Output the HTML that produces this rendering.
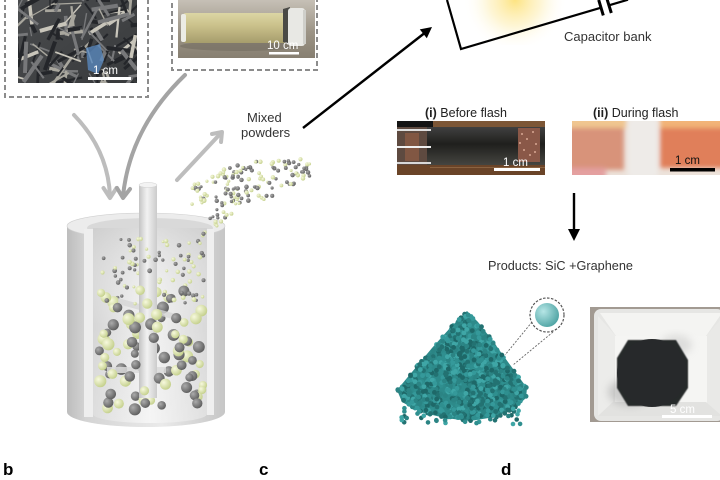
<!DOCTYPE html>
<html><head><meta charset="utf-8"><style>
html,body{margin:0;padding:0;background:#fff;}
svg{display:block;}
text{font-family:"Liberation Sans",sans-serif;}
</style></head><body>
<svg id="s" width="720" height="480" viewBox="0 0 720 480" xmlns="http://www.w3.org/2000/svg">
<defs>
 <radialGradient id="glow" cx="515" cy="0" r="52" gradientUnits="userSpaceOnUse">
  <stop offset="0" stop-color="#fde27a" stop-opacity="0.95"/>
  <stop offset="0.5" stop-color="#fdefb8" stop-opacity="0.6"/>
  <stop offset="1" stop-color="#ffffff" stop-opacity="0"/>
 </radialGradient>
 <radialGradient id="gs" cx="0.35" cy="0.35" r="0.7"><stop offset="0" stop-color="#ababab"/><stop offset="1" stop-color="#5c5c5c"/></radialGradient>
 <radialGradient id="ys" cx="0.35" cy="0.35" r="0.7"><stop offset="0" stop-color="#f7f9de"/><stop offset="1" stop-color="#c3cf8a"/></radialGradient>
 <radialGradient id="ts" cx="0.35" cy="0.35" r="0.7"><stop offset="0" stop-color="#b6e6e6"/><stop offset="1" stop-color="#4fa4a4"/></radialGradient>
 <linearGradient id="body" x1="0" x2="1"><stop offset="0" stop-color="#bdbdbd"/><stop offset="0.12" stop-color="#d4d4d4"/><stop offset="0.6" stop-color="#eaeaea"/><stop offset="1" stop-color="#c6c6c6"/></linearGradient>
 <linearGradient id="inner" x1="0" x2="1"><stop offset="0" stop-color="#d6d6d6"/><stop offset="0.5" stop-color="#f3f3f3"/><stop offset="1" stop-color="#d9d9d9"/></linearGradient>
 <linearGradient id="innerV" x1="0" x2="0" y1="0" y2="1"><stop offset="0" stop-color="#c8c8c8" stop-opacity="0.5"/><stop offset="0.5" stop-color="#ffffff" stop-opacity="0"/><stop offset="1" stop-color="#ffffff" stop-opacity="0.2"/></linearGradient>
 <linearGradient id="shaft" x1="0" x2="1"><stop offset="0" stop-color="#c4c4c4"/><stop offset="0.45" stop-color="#f2f2f2"/><stop offset="1" stop-color="#cbcbcb"/></linearGradient>
 <linearGradient id="p2bg" x1="0" x2="0" y1="0" y2="1"><stop offset="0" stop-color="#c6c0b6"/><stop offset="0.55" stop-color="#9c9486"/><stop offset="1" stop-color="#877f71"/></linearGradient>
 <linearGradient id="tube" x1="0" x2="0" y1="0" y2="1"><stop offset="0" stop-color="#dcd6a4"/><stop offset="0.4" stop-color="#cbc28c"/><stop offset="1" stop-color="#a69d6c"/></linearGradient>
 <linearGradient id="tubei" x1="0" x2="0" y1="0" y2="1"><stop offset="0" stop-color="#404040"/><stop offset="0.45" stop-color="#1f1f1d"/><stop offset="1" stop-color="#454540"/></linearGradient>
 <linearGradient id="p1bg" x1="0" x2="1" y1="0" y2="1"><stop offset="0" stop-color="#4a4c4e"/><stop offset="1" stop-color="#383a3c"/></linearGradient>
 <filter id="bl" x="-10%" y="-10%" width="120%" height="120%"><feGaussianBlur stdDeviation="2.5"/></filter>
 <filter id="bl4" x="-30%" y="-30%" width="160%" height="160%"><feGaussianBlur stdDeviation="4"/></filter>
 <filter id="bl1"><feGaussianBlur stdDeviation="0.6"/></filter>
 <clipPath id="c1"><rect x="18" y="0" width="119" height="83"/></clipPath>
 <clipPath id="c2"><rect x="178" y="0" width="137" height="58"/></clipPath>
 <clipPath id="c3"><rect x="397" y="121" width="148" height="54"/></clipPath>
 <clipPath id="c4"><rect x="572" y="121" width="148" height="54"/></clipPath>
 <clipPath id="c5"><rect x="590" y="307" width="130" height="115"/></clipPath>
</defs>

<rect x="0" y="0" width="720" height="480" fill="#fff"/>

<!-- Photo 1 : shredded fibers -->
<rect x="5" y="-10" width="143" height="107" fill="none" stroke="#8c8c8c" stroke-width="2" stroke-dasharray="5,3"/>
<g clip-path="url(#c1)">
 <rect x="18" y="0" width="119" height="83" fill="url(#p1bg)"/>
 <g id="shreds"></g>
 <path d="M86,48 L100,44 L104,60 L98,74 L88,70 Z" fill="#5b8cc4" opacity="0.75"/>
 <rect x="88" y="77" width="43" height="3" fill="#fff"/>
 <text x="93" y="74" font-size="11.5" fill="#fff">1 cm</text>
</g>

<!-- Photo 2 : tube -->
<rect x="172" y="-10" width="145" height="80" fill="none" stroke="#8c8c8c" stroke-width="2" stroke-dasharray="5,3"/>
<g clip-path="url(#c2)">
 <rect x="178" y="0" width="137" height="58" fill="url(#p2bg)"/>
 <ellipse cx="240" cy="46" rx="60" ry="5" fill="#6e675c" opacity="0.5"/>
 <rect x="182" y="13" width="108" height="30" rx="4" fill="url(#tube)"/>
 <rect x="181" y="14" width="5" height="28" rx="2" fill="#ecece4"/>
 <path d="M283,9 L290,7 L290,44 L283,42 Z" fill="#4a4a46"/>
 <rect x="288" y="8" width="17" height="38" rx="3" fill="#e8e8e4"/>
 <rect x="303" y="10" width="3" height="34" fill="#cfcfca"/>
 <rect x="269" y="52" width="30" height="2.5" fill="#fff"/>
 <text x="267" y="49" font-size="11.5" fill="#fff">10 cm</text>
</g>

<!-- Capacitor -->
<rect x="440" y="0" width="160" height="45" fill="url(#glow)"/>
<path d="M447,0 L461,49 L601,7.7" fill="none" stroke="#000" stroke-width="2.2" stroke-linejoin="miter"/>
<line x1="598.7" y1="0" x2="603.3" y2="15.4" stroke="#000" stroke-width="3"/>
<line x1="606.7" y1="-2" x2="611.3" y2="13" stroke="#000" stroke-width="3"/>
<line x1="609" y1="5.3" x2="628" y2="-0.3" stroke="#000" stroke-width="2.2"/>
<text x="564" y="41" font-size="13" fill="#333">Capacitor bank</text>

<!-- Black arrow -->
<line x1="303" y1="128" x2="424" y2="33.5" stroke="#000" stroke-width="2.4"/>
<polygon points="432,27 426.8,38.3 419.8,29.4" fill="#000"/>

<text x="247" y="122" font-size="13" fill="#333">Mixed</text>
<text x="241" y="137" font-size="13" fill="#333">powders</text>

<!-- Gray arrows -->
<g fill="none" stroke-width="4" stroke-linecap="round" stroke-linejoin="round">
 <path d="M74,115 Q108,150 110,196" stroke="#bdbdbd"/>
 <polyline points="103.5,188 110,198 116.5,188" stroke="#bdbdbd"/>
 <path d="M185,75 Q130,128 123,196" stroke="#a4a4a4"/>
 <polyline points="117,188 123,198 130,189" stroke="#a4a4a4"/>
 <line x1="177" y1="180" x2="221" y2="133" stroke="#bdbdbd"/>
 <polyline points="212,134 222,132 221,142" stroke="#bdbdbd"/>
</g>

<!-- Mixer -->
<path d="M67,226 L67,412 A79,15 0 0 0 225,412 L225,226 A79,13 0 0 0 67,226 Z" fill="url(#body)"/>
<ellipse cx="146" cy="226" rx="79" ry="13" fill="#ececec" stroke="#d0d0d0" stroke-width="0.6"/>
<ellipse cx="150" cy="228" rx="63" ry="10" fill="#d9d9d9"/>
<path d="M93,228 L93,414 A57,9 0 0 0 207,414 L207,228 Z" fill="url(#inner)"/>
<path d="M93,228 L93,414 A57,9 0 0 0 207,414 L207,228 Z" fill="url(#innerV)"/>
<rect x="84" y="229" width="9" height="188" fill="#eeeeee"/>
<rect x="207" y="229" width="7" height="186" fill="#efefef"/>
<g id="mixback"></g>
<polygon points="118,298 176,314 176,320 118,304" fill="#d6d6d6" opacity="0.8"/>
<polygon points="107,367 166,367 166,373 107,373" fill="#dadada" opacity="0.85"/>
<rect x="139" y="185" width="18" height="213" fill="url(#shaft)"/>
<ellipse cx="148" cy="185" rx="9" ry="2.5" fill="#f3f3f3" stroke="#cfcfcf" stroke-width="0.5"/>
<g id="mixfront"></g>
<g id="pow"></g>

<!-- Photo i -->
<text x="425" y="117" font-size="12.5" fill="#222"><tspan font-weight="bold">(i)</tspan> Before flash</text>
<g clip-path="url(#c3)">
 <rect x="397" y="121" width="148" height="54" fill="#6c4829"/>
 <rect x="397" y="121" width="148" height="6" fill="#7c5636"/>
 <rect x="397" y="121" width="36" height="6" fill="#141414"/>
 <rect x="397" y="127" width="148" height="38" fill="url(#tubei)"/>
 <rect x="397" y="127" width="30" height="38" fill="#5e4a40"/>
 <rect x="405" y="133" width="14" height="28" fill="#8a5a44" opacity="0.8"/>
 <rect x="397" y="129" width="34" height="2" fill="#e0e0e0"/>
 <rect x="397" y="146" width="34" height="2" fill="#f0f0f0"/>
 <rect x="397" y="162" width="34" height="2" fill="#d8d8d8"/>
 <rect x="518" y="128" width="22" height="34" fill="#8a5848"/>
 <g fill="#d8a894"><circle cx="522" cy="134" r="1"/><circle cx="527" cy="139" r="1"/><circle cx="533" cy="132" r="1"/><circle cx="536" cy="144" r="1"/><circle cx="524" cy="150" r="1"/><circle cx="530" cy="155" r="1"/><circle cx="520" cy="143" r="1"/><circle cx="535" cy="152" r="1"/></g>
 <rect x="397" y="165" width="148" height="10" fill="#6a4428"/>
 <rect x="430" y="167" width="115" height="1" fill="#8a6240"/>
 <rect x="494" y="168" width="46" height="3" fill="#fff"/>
 <text x="503" y="166" font-size="11.5" fill="#fff">1 cm</text>
</g>

<!-- Photo ii -->
<text x="593" y="117" font-size="12.5" fill="#222"><tspan font-weight="bold">(ii)</tspan> During flash</text>
<g clip-path="url(#c4)">
 <rect x="572" y="121" width="148" height="54" fill="#ece2da"/>
 <g filter="url(#bl)">
  <rect x="566" y="126" width="58" height="44" fill="#d8937a"/>
  <rect x="566" y="116" width="60" height="12" fill="#f0c690"/>
  <rect x="660" y="128" width="66" height="40" fill="#e07f5a"/>
  <rect x="660" y="116" width="66" height="12" fill="#f2b478"/>
  <rect x="566" y="168" width="40" height="12" fill="#e4a0a0"/>
  <rect x="628" y="118" width="30" height="60" fill="#eeebe8"/>
 </g>
 <rect x="670" y="168" width="45" height="3.5" fill="#000"/>
 <text x="675" y="164" font-size="11.5" fill="#111">1 cm</text>
</g>

<!-- Down arrow -->
<line x1="574" y1="193" x2="574" y2="231" stroke="#000" stroke-width="2.4"/>
<polygon points="568,229 580,229 574,241" fill="#000"/>

<text x="488" y="270" font-size="12.7" fill="#333">Products: SiC +Graphene</text>

<!-- Pyramid -->
<polygon id="pyr" points="467,311 478,322 492,340 508,362 527,388 526,398 515,408 495,417 470,421 445,418 420,412 402,402 397,390 412,372 432,348 450,328" fill="#2d8a8a"/>
<g id="pyrdots"></g>
<line x1="532" y1="322" x2="505" y2="355" stroke="#666" stroke-width="0.9" stroke-dasharray="2,1.5"/>
<line x1="553" y1="332" x2="513" y2="365" stroke="#666" stroke-width="0.9" stroke-dasharray="2,1.5"/>
<circle cx="547" cy="315" r="17" fill="#fff" stroke="#555" stroke-width="1.2" stroke-dasharray="2.5,1.5"/>
<circle cx="547" cy="315" r="12" fill="url(#ts)"/>

<!-- Photo d -->
<g clip-path="url(#c5)">
 <rect x="590" y="307" width="130" height="115" fill="#a29a92"/>
 <rect x="594" y="309" width="130" height="112" rx="7" fill="#e6e6e4"/>
 <polygon points="600,313 722,313 706,336 616,336" fill="#f4f4f2"/>
 <polygon points="598,316 616,336 613,402 598,416" fill="#ececea"/>
 <polygon points="706,336 722,318 722,416 704,402" fill="#e9e9e7"/>
 <rect x="615" y="336" width="92" height="68" fill="#f5f5f3"/>
 <polygon points="598,416 613,402 706,402 722,416" fill="#e2e2e0"/>
 <ellipse cx="630" cy="392" rx="22" ry="14" fill="#9c9c9c" opacity="0.45" filter="url(#bl4)"/>
 <ellipse cx="676" cy="345" rx="16" ry="10" fill="#b0b0b0" opacity="0.35" filter="url(#bl4)"/>
 <path d="M628,340 L676,340 L688,360 L688,388 L676,406 L628,406 L617,388 L617,358 Z" fill="#27292b" filter="url(#bl1)"/>
 <ellipse cx="652" cy="373" rx="35" ry="34" fill="#27292b"/>
 <rect x="662" y="415" width="50" height="3" fill="#fff"/>
 <text x="670" y="413" font-size="11.5" fill="#fff">5 cm</text>
</g>

<!-- Panel labels -->
<text x="3" y="475" font-size="17" font-weight="bold" fill="#000">b</text>
<text x="259" y="475" font-size="17" font-weight="bold" fill="#000">c</text>
<text x="501" y="475" font-size="17" font-weight="bold" fill="#000">d</text>
</svg>
<script>
(function(){
var NS="http://www.w3.org/2000/svg";
var s=12345;function r(){s=(s*16807)%2147483647;return (s-1)/2147483646;}
function el(p,tag,a){var e=document.createElementNS(NS,tag);for(var k in a)e.setAttribute(k,a[k]);p.appendChild(e);return e;}
var i,x,y,t,g;
// shreds
g=document.getElementById('shreds');
for(i=0;i<130;i++){x=14+r()*128;y=-6+r()*94;var a=r()*Math.PI*2,L=8+r()*26,w=1.2+r()*3,c=r();
var col=c<0.35?'#24262a':(c<0.68?'#77787a':(c<0.9?'#a9a79e':'#c8c5ba'));
el(g,'line',{x1:x,y1:y,x2:x+Math.cos(a)*L,y2:y+Math.sin(a)*L,stroke:col,'stroke-width':w});}
// mixer particles
var mb=document.getElementById('mixback'),mf=document.getElementById('mixfront');
for(i=0;i<90;i++){x=97+r()*108;y=238+r()*66;el(r()<0.5?mb:mf,'circle',{cx:x,cy:y,r:1.5+r()*0.9,fill:r()<0.5?'url(#gs)':'url(#ys)'});}
for(i=0;i<95;i++){x=99+r()*104;y=290+r()*120;el(r()<0.5?mb:mf,'circle',{cx:x,cy:y,r:4+r()*2.2,fill:r()<0.5?'url(#gs)':'url(#ys)'});}
// powder stream & cloud
var p=document.getElementById('pow');
for(i=0;i<30;i++){t=r();x=203+t*40+(r()-0.5)*14;y=230-t*38+(r()-0.5)*12;el(p,'circle',{cx:x,cy:y,r:1.5+r()*0.7,fill:r()<0.55?'url(#gs)':'url(#ys)'});}
for(i=0;i<130;i++){t=r();x=190+t*120;y=194-t*24+(r()-0.5)*(20+22*Math.sin(t*3.1));el(p,'circle',{cx:x,cy:y,r:1.5+r()*0.8,fill:r()<0.55?'url(#gs)':'url(#ys)'});}
// pyramid dots
var P=[[467,311],[478,322],[492,340],[508,362],[527,388],[526,398],[515,408],[495,417],[470,421],[445,418],[420,412],[402,402],[397,390],[412,372],[432,348],[450,328]];
function inside(px,py){var c=false;for(var a=0,b=P.length-1;a<P.length;b=a++){var xi=P[a][0],yi=P[a][1],xj=P[b][0],yj=P[b][1];if(((yi>py)!=(yj>py))&&(px<(xj-xi)*(py-yi)/(yj-yi)+xi))c=!c;}return c;}
var pd=document.getElementById('pyrdots');var cols=['#2b8484','#35999a','#237272','#3fa6a6','#2f8f8f','#1e6868'];
for(i=0;i<1600;i++){x=395+r()*135;y=309+r()*114;if(!inside(x,y))continue;el(pd,'circle',{cx:x.toFixed(1),cy:y.toFixed(1),r:2.4,fill:cols[Math.floor(r()*cols.length)]});}
for(i=0;i<70;i++){x=398+r()*128;y=398+r()*26;el(pd,'circle',{cx:x.toFixed(1),cy:y.toFixed(1),r:2.3,fill:cols[Math.floor(r()*cols.length)]});}
})();
</script>
</body></html>
